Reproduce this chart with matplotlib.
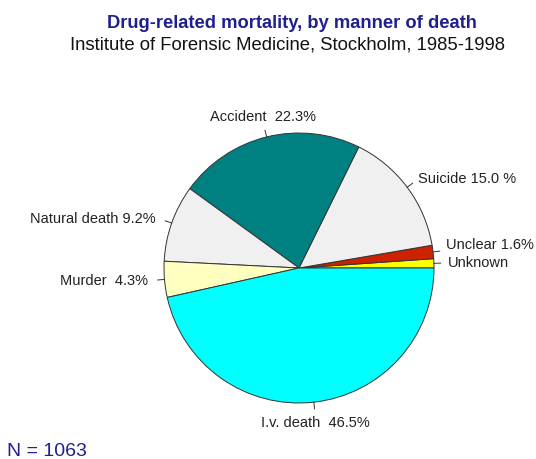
import numpy as np
import matplotlib.pyplot as plt

plt.rcParams['font.family'] = ['Liberation Sans', 'DejaVu Sans']

# Data (anticlockwise from 3 o'clock)
labels = ['Unknown', 'Unclear 1.6%', 'Suicide 15.0 %', 'Accident  22.3%',
          'Natural death 9.2%', 'Murder  4.3%', 'I.v. death  46.5%']
values = [1.1, 1.6, 15.0, 22.3, 9.2, 4.3, 46.5]
colors = ['#FFFF00', '#CC2200', '#F0F0F0', '#008080', '#F0F0F0', '#FFFFC0', '#00FFFF']

W, H = 536, 459
fig = plt.figure(figsize=(W / 100, H / 100), dpi=100)
ax = fig.add_axes([0, 0, 1, 1])

cx, cy, r = 299, H - 268, 135
wedges, _ = ax.pie(values, colors=colors, startangle=0, counterclock=True,
                   center=(cx, cy), radius=r, frame=True,
                   wedgeprops=dict(edgecolor='#333333', linewidth=0.7))
ax.set_xlim(0, W)
ax.set_ylim(0, H)
ax.set_aspect('equal')
ax.axis('off')

prev_y = None
for w, lab in zip(wedges, labels):
    ang = np.deg2rad((w.theta1 + w.theta2) / 2)
    c, s = np.cos(ang), np.sin(ang)
    ax.plot([cx + r * c, cx + 1.05 * r * c], [cy + r * s, cy + 1.05 * r * s],
            color='#333333', lw=0.7)
    tx, ty = cx + 1.1 * r * c, cy + 1.1 * r * s
    if abs(c) < 0.3:
        ha = 'center'
        va = 'bottom' if s > 0 else 'top'
    else:
        ha = 'left' if c > 0 else 'right'
        va = 'center'
        if c < 0:
            tx -= 3
        # keep the small right-hand labels apart
        if c > 0 and prev_y is not None and ty - prev_y < 18:
            ty = prev_y + 18
        prev_y = ty if c > 0 else None
    ax.text(tx, ty, lab, ha=ha, va=va, fontsize=10.5, color='#222222')

fig.text(292 / W, 1 - 23 / H, 'Drug-related mortality, by manner of death',
         ha='center', va='center', fontsize=13.2, fontweight='bold', color='#1F1F8F')
fig.text(288 / W, 1 - 45 / H, 'Institute of Forensic Medicine, Stockholm, 1985-1998',
         ha='center', va='center', fontsize=13.3, color='#111111')
fig.text(7 / W, 1 - 451 / H, 'N = 1063', ha='left', va='center',
         fontsize=14, color='#1F1F8F')

fig.savefig('out.png', dpi=100)
